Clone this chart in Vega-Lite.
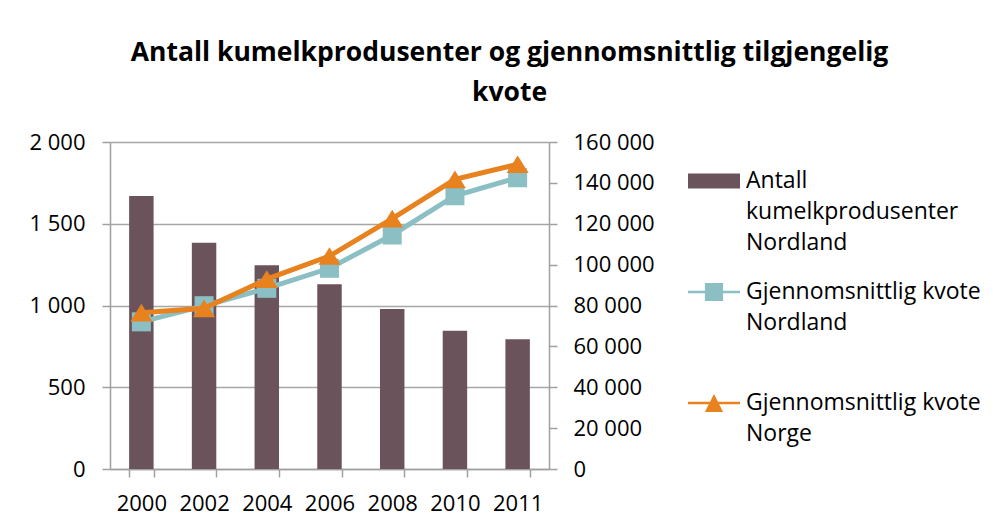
{
  "$schema": "https://vega.github.io/schema/vega-lite/v6.json",
  "width": 439,
  "height": 327,
  "autosize": {"type": "none"},
  "padding": {"left": 110, "top": 142, "right": 449, "bottom": 60},
  "background": "white",
  "config": {
    "font": "Open Sans",
    "view": {"stroke": null},
    "axis": {
      "domainColor": "#A0A0A0",
      "domainWidth": 1.5,
      "tickColor": "#A0A0A0",
      "tickWidth": 1.5,
      "tickSize": 8,
      "gridColor": "#A6A6A6",
      "gridWidth": 1.5,
      "labelColor": "black",
      "labelFontSize": 22,
      "labelFont": "Open Sans",
      "title": null
    }
  },
  "title": {
    "text": ["Antall kumelkprodusenter og gjennomsnittlig tilgjengelig", "kvote"],
    "fontSize": 26.5,
    "fontWeight": "bold",
    "color": "black",
    "font": "Open Sans",
    "lineHeight": 40,
    "dx": 180,
    "offset": 25
  },
  "data": {
    "values": [
      {"year": "2000", "antall": 1670, "nordland": 72000, "norge": 76500},
      {"year": "2002", "antall": 1384, "nordland": 79900, "norge": 78600},
      {"year": "2004", "antall": 1246, "nordland": 88400, "norge": 92900},
      {"year": "2006", "antall": 1130, "nordland": 98200, "norge": 104200},
      {"year": "2008", "antall": 979, "nordland": 114500, "norge": 122500},
      {"year": "2010", "antall": 846, "nordland": 133700, "norge": 141700},
      {"year": "2011", "antall": 793, "nordland": 142500, "norge": 149100}
    ]
  },
  "layer": [
    {
      "mark": {"type": "bar", "color": "#6B535C"},
      "encoding": {
        "x": {
          "field": "year",
          "type": "ordinal",
          "scale": {"paddingInner": 0.61, "paddingOuter": 0.305},
          "axis": {"labelAngle": 0, "tickBand": "extent", "labelPadding": 16, "grid": false}
        },
        "y": {
          "field": "antall",
          "type": "quantitative",
          "scale": {"domain": [0, 2000]},
          "axis": {
            "orient": "left",
            "values": [0, 500, 1000, 1500, 2000],
            "grid": true,
            "labelPadding": 17,
            "labelExpr": "replace(format(datum.value, ','), ',', ' ')"
          }
        },
        "color": {
          "datum": "Antall kumelkprodusenter Nordland",
          "type": "nominal",
          "scale": {
            "domain": ["Antall kumelkprodusenter Nordland", "Gjennomsnittlig kvote Nordland", "Gjennomsnittlig kvote Norge"],
            "range": ["#6B535C", "#8BBFC4", "#E8821E"]
          },
          "legend": {
            "orient": "none",
            "legendX": 578,
            "legendY": 13,
            "title": null,
            "labelFontSize": 23,
            "labelFont": "Open Sans",
            "labelColor": "black",
            "labelLimit": 400,
            "symbolSize": 2704,
            "rowPadding": 11,
            "labelOffset": 6,
            "labelExpr": "datum.label == 'Antall kumelkprodusenter Nordland' ? ['Antall', 'kumelkprodusenter', 'Nordland'] : datum.label == 'Gjennomsnittlig kvote Nordland' ? ['Gjennomsnittlig kvote', 'Nordland', ' '] : ['Gjennomsnittlig kvote', 'Norge', ' ']",
            "encode": {
              "symbols": {
                "update": {
                  "shape": {"signal": "datum.value == 'Antall kumelkprodusenter Nordland' ? 'M-1,-0.29H1V0.29H-1Z' : datum.value == 'Gjennomsnittlig kvote Nordland' ? 'M-1,-0.05H1V0.05H-1Z M-0.35,-0.35H0.35V0.35H-0.35Z' : 'M-1,-0.05H1V0.05H-1Z M-0.35,0.35L0,-0.35L0.35,0.35Z'"},
                  "fill": {"signal": "datum.value == 'Antall kumelkprodusenter Nordland' ? '#6B535C' : datum.value == 'Gjennomsnittlig kvote Nordland' ? '#8BBFC4' : '#E8821E'"},
                  "stroke": {"value": "transparent"},
                  "strokeWidth": {"value": 0},
                  "opacity": {"value": 1}
                }
              },
              "labels": {
                "update": {"lineHeight": {"value": 31}}
              }
            }
          }
        }
      }
    },
    {
      "encoding": {
        "x": {"field": "year", "type": "ordinal"},
        "y": {
          "type": "quantitative",
          "scale": {"domain": [0, 160000]},
          "axis": {
            "orient": "right",
            "values": [0, 20000, 40000, 60000, 80000, 100000, 120000, 140000, 160000],
            "grid": false,
            "labelPadding": 16,
            "labelExpr": "replace(format(datum.value, ','), ',', ' ')"
          }
        }
      },
      "layer": [
        {
          "mark": {
            "type": "line",
            "strokeWidth": 5,
            "point": {"filled": true, "shape": "square", "size": 361, "opacity": 1}
          },
          "encoding": {
            "y": {"field": "nordland", "type": "quantitative"},
            "color": {"datum": "Gjennomsnittlig kvote Nordland", "type": "nominal"}
          }
        },
        {
          "mark": {
            "type": "line",
            "strokeWidth": 5,
            "point": {"filled": true, "shape": "M-1,0.8L0,-0.8L1,0.8Z", "size": 484, "opacity": 1}
          },
          "encoding": {
            "y": {"field": "norge", "type": "quantitative"},
            "color": {"datum": "Gjennomsnittlig kvote Norge", "type": "nominal"}
          }
        }
      ]
    }
  ],
  "resolve": {"scale": {"y": "independent"}}
}
